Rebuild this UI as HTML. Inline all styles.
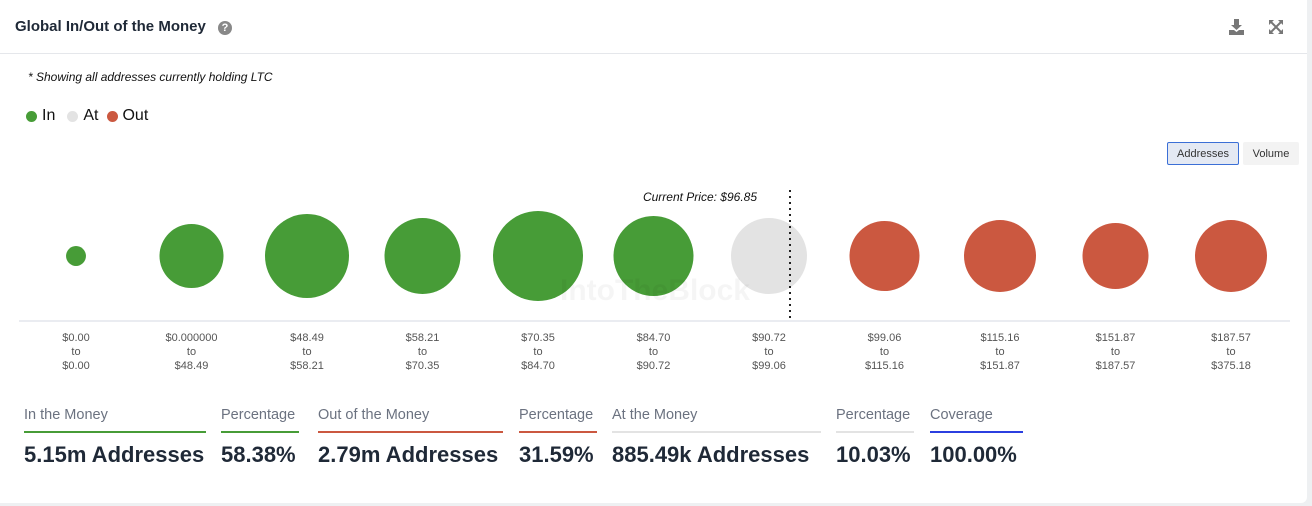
<!DOCTYPE html>
<html><head><meta charset="utf-8"><style>
body{margin:0;width:1312px;height:506px;background:#eef0f2;font-family:"Liberation Sans",sans-serif;overflow:hidden;position:relative}
.card{position:absolute;left:0;top:0;width:1307px;height:503px;background:#fff;border-radius:0 0 6px 0}
.abs{position:absolute}
.lab{font-size:14.5px;color:#6b7280}
.val{font-size:22px;color:#1f2937;font-weight:bold}
.bar{height:2px}
</style></head><body>
<div class="card">
<div class="abs" style="left:15px;top:18px;font-size:15px;font-weight:bold;color:#1f2937">Global In/Out of the Money</div>
<div class="abs" style="left:218px;top:21px;width:14px;height:14px;border-radius:50%;background:#888;color:#fff;font-size:11px;font-weight:bold;text-align:center;line-height:14px">?</div>
<svg class="abs" style="left:1228px;top:18px" width="18" height="18"><path d="M6 1h5v6h3l-5.5 5L3 7h3z M1 12h5l2.5 2 2.5-2h5v5H1z" fill="#777"/></svg>
<svg class="abs" style="left:1268px;top:19px" width="16" height="16" stroke="#777" stroke-width="2" fill="#777"><path d="M2 2l12 12M14 2L2 14"/><path d="M1 1h5L1 6zM15 1h-5l5 5zM1 15h5l-5-5zM15 15h-5l5-5z" stroke="none"/></svg>
<div class="abs" style="left:0;top:53px;width:1307px;height:1px;background:#e5e7eb"></div>
<div class="abs" style="left:28px;top:70px;font-size:12px;font-style:italic;color:#111">* Showing all addresses currently holding LTC</div>
<div class="abs" style="left:26px;top:107px;font-size:16px;color:#111;display:flex;align-items:center">
<span style="display:flex;align-items:center"><span style="width:11px;height:11px;border-radius:50%;background:#479c37;margin-right:5px"></span>In</span>
<span style="display:flex;align-items:center;margin-left:12px"><span style="width:11px;height:11px;border-radius:50%;background:#e3e3e3;margin-right:5px"></span>At</span>
<span style="display:flex;align-items:center;margin-left:9px"><span style="width:11px;height:11px;border-radius:50%;background:#cb5840;margin-right:4px"></span>Out</span>
</div>
<div class="abs" style="left:1167px;top:142px;width:70px;height:21px;border:1px solid #3b6fd6;border-radius:2px;background:#e4e9f3;font-size:11px;color:#333;text-align:center;line-height:23px">Addresses</div>
<div class="abs" style="left:1243px;top:142px;width:56px;height:23px;background:#f3f3f3;border-radius:2px;font-size:11px;color:#333;text-align:center;line-height:25px">Volume</div>
<svg class="abs" id="chart" style="left:0;top:180px" width="1307" height="200"></svg>

<div class="abs lab" style="left:24px;top:407px">In the Money</div>
<div class="abs bar" style="left:24px;top:431px;width:182px;background:#479c37"></div>
<div class="abs val" style="left:24px;top:442px">5.15m Addresses</div>
<div class="abs lab" style="left:221px;top:407px">Percentage</div>
<div class="abs bar" style="left:221px;top:431px;width:78px;background:#479c37"></div>
<div class="abs val" style="left:221px;top:442px">58.38%</div>
<div class="abs lab" style="left:318px;top:407px">Out of the Money</div>
<div class="abs bar" style="left:318px;top:431px;width:185px;background:#cb5840"></div>
<div class="abs val" style="left:318px;top:442px">2.79m Addresses</div>
<div class="abs lab" style="left:519px;top:407px">Percentage</div>
<div class="abs bar" style="left:519px;top:431px;width:78px;background:#cb5840"></div>
<div class="abs val" style="left:519px;top:442px">31.59%</div>
<div class="abs lab" style="left:612px;top:407px">At the Money</div>
<div class="abs bar" style="left:612px;top:431px;width:209px;background:#e3e3e3"></div>
<div class="abs val" style="left:612px;top:442px">885.49k Addresses</div>
<div class="abs lab" style="left:836px;top:407px">Percentage</div>
<div class="abs bar" style="left:836px;top:431px;width:78px;background:#e3e3e3"></div>
<div class="abs val" style="left:836px;top:442px">10.03%</div>
<div class="abs lab" style="left:930px;top:407px">Coverage</div>
<div class="abs bar" style="left:930px;top:431px;width:93px;background:#2b3fe0"></div>
<div class="abs val" style="left:930px;top:442px">100.00%</div>
</div>
<script>
const lowLabels=["$0.00","$0.000000","$48.49","$58.21","$70.35","$84.70","$90.72","$99.06","$115.16","$151.87","$187.57"];
const highLabels=["$0.00","$48.49","$58.21","$70.35","$84.70","$90.72","$99.06","$115.16","$151.87","$187.57","$375.18"];
const statuses=["in","in","in","in","in","in","at","out","out","out","out"];
const addressesK=[49,506,871,713,1000,790,713,605,640,538,640];
const currentPrice=96.85;
const svg=document.getElementById('chart');
const NS='http://www.w3.org/2000/svg';
const colors={in:"#479c37",at:"#e3e3e3",out:"#cb5840"};
const x0=76,step=115.5,cy=76,rMax=45;
const vMax=Math.max(...addressesK);
function xPos(i){return x0+i*step;}
function rad(v){return rMax*Math.sqrt(v/vMax);}
function mk(t,a){const e=document.createElementNS(NS,t);for(const k in a)e.setAttribute(k,a[k]);svg.appendChild(e);return e;}
const axis=mk('line',{x1:19,x2:1290,y1:141,y2:141,stroke:'#d6dae3','stroke-width':1});


addressesK.forEach((v,i)=>{
 const c=mk('circle',{cx:xPos(i),cy:cy,r:rad(v),fill:colors[statuses[i]]});
 
 
 [lowLabels[i],'to',highLabels[i]].forEach((t,j)=>{
  const tx=mk('text',{x:xPos(i),y:161+j*14,'text-anchor':'middle','font-size':11,fill:'#555','font-family':'Liberation Sans'});
  tx.textContent=t;
  
  
 });
});
const wm=mk('text',{x:655,y:120,'text-anchor':'middle','font-size':30,'font-weight':'bold',fill:'#000','fill-opacity':0.04,'font-family':'Liberation Sans'});
wm.textContent='IntoTheBlock';


const pl=mk('line',{x1:790,x2:790,y1:10,y2:140,stroke:'#222','stroke-width':2,'stroke-dasharray':'2,4'});


const pt=mk('text',{x:757,y:21,'text-anchor':'end','font-size':12,'font-style':'italic',fill:'#111','font-family':'Liberation Sans'});
pt.textContent='Current Price: $'+currentPrice.toFixed(2);


</script>
</body></html>
